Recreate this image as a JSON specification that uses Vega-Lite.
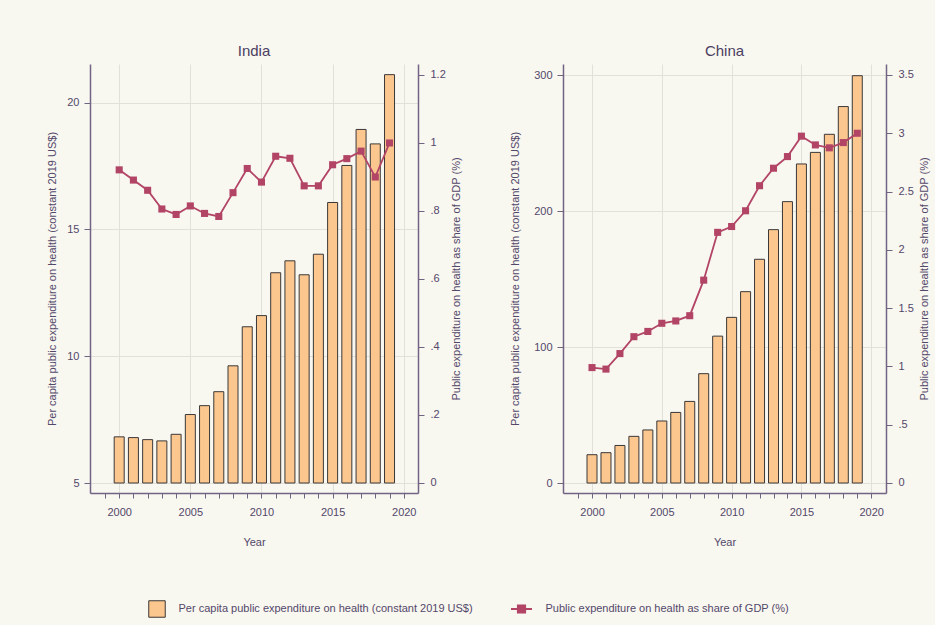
{
  "$schema": "https://vega.github.io/schema/vega-lite/v6.json",
  "background": "#f8f7f0",
  "padding": {"left": 46, "top": 44, "right": 5, "bottom": 5},
  "config": {
    "font": "Liberation Sans",
    "view": {"stroke": null},
    "axis": {
      "labelFont": "Liberation Sans", "titleFont": "Liberation Sans",
      "labelFontSize": 11, "titleFontSize": 11, "titleFontWeight": "normal",
      "labelColor": "#54486a", "titleColor": "#54486a",
      "domainColor": "#716382", "tickColor": "#716382",
      "domainWidth": 1.5, "tickWidth": 1,
      "gridColor": "#e2e1d9", "gridWidth": 1
    },
    "title": {"fontSize": 15, "fontWeight": "normal", "color": "#4b4060", "offset": 5, "font": "Liberation Sans"}
  },
  "datasets": {
    "india": [
      {"year": 2000, "percap": 6.82, "share": 0.920},
      {"year": 2001, "percap": 6.79, "share": 0.890},
      {"year": 2002, "percap": 6.71, "share": 0.860},
      {"year": 2003, "percap": 6.66, "share": 0.805},
      {"year": 2004, "percap": 6.92, "share": 0.789},
      {"year": 2005, "percap": 7.70, "share": 0.814},
      {"year": 2006, "percap": 8.05, "share": 0.792},
      {"year": 2007, "percap": 8.60, "share": 0.783},
      {"year": 2008, "percap": 9.62, "share": 0.853},
      {"year": 2009, "percap": 11.16, "share": 0.924},
      {"year": 2010, "percap": 11.60, "share": 0.884},
      {"year": 2011, "percap": 13.29, "share": 0.960},
      {"year": 2012, "percap": 13.76, "share": 0.954},
      {"year": 2013, "percap": 13.21, "share": 0.873},
      {"year": 2014, "percap": 14.02, "share": 0.873},
      {"year": 2015, "percap": 16.06, "share": 0.935},
      {"year": 2016, "percap": 17.52, "share": 0.953},
      {"year": 2017, "percap": 18.94, "share": 0.975},
      {"year": 2018, "percap": 18.37, "share": 0.899},
      {"year": 2019, "percap": 21.10, "share": 0.999}
    ],
    "china": [
      {"year": 2000, "percap": 20.8, "share": 0.99},
      {"year": 2001, "percap": 22.3, "share": 0.977},
      {"year": 2002, "percap": 27.6, "share": 1.11},
      {"year": 2003, "percap": 34.3, "share": 1.255},
      {"year": 2004, "percap": 39.0, "share": 1.30},
      {"year": 2005, "percap": 45.6, "share": 1.37},
      {"year": 2006, "percap": 51.9, "share": 1.39},
      {"year": 2007, "percap": 60.0, "share": 1.435},
      {"year": 2008, "percap": 80.4, "share": 1.74},
      {"year": 2009, "percap": 108.0, "share": 2.15},
      {"year": 2010, "percap": 121.8, "share": 2.20},
      {"year": 2011, "percap": 140.7, "share": 2.335},
      {"year": 2012, "percap": 164.5, "share": 2.55},
      {"year": 2013, "percap": 186.3, "share": 2.70},
      {"year": 2014, "percap": 206.9, "share": 2.80},
      {"year": 2015, "percap": 234.6, "share": 2.975},
      {"year": 2016, "percap": 243.1, "share": 2.90},
      {"year": 2017, "percap": 256.4, "share": 2.875},
      {"year": 2018, "percap": 276.8, "share": 2.92},
      {"year": 2019, "percap": 299.5, "share": 3.00}
    ]
  },
  "vconcat": [
    {
      "hconcat": [
        {
          "title": {"text": "India"},
          "width": 328, "height": 429,
          "data": {"name": "india"},
          "encoding": {
            "x": {
              "field": "year", "type": "quantitative",
              "scale": {"domain": [1998.3, 2020.65], "nice": false, "zero": false},
              "axis": {
                "title": "Year", "values": [1999,2000,2001,2002,2003,2004,2005,2006,2007,2008,2009,2010,2011,2012,2013,2014,2015,2016,2017,2018,2019,2020],
                "format": "d", "labelExpr": "datum.value % 5 === 0 ? datum.label : ''",
                "labelOverlap": false, "labelFlush": false,
                "tickSize": 5, "labelPadding": 8, "titlePadding": 19,
                "grid": true,
                "gridOpacity": {"condition": {"test": "datum.value % 5 === 0", "value": 1}, "value": 0}
              }
            }
          },
          "layer": [
            {
              "mark": {"type": "bar", "size": 10, "fill": "#fcc78e", "stroke": "#3b3838", "strokeWidth": 1},
              "encoding": {
                "y": {
                  "field": "percap", "type": "quantitative",
                  "scale": {"domain": [4.606, 21.52], "nice": false, "zero": false},
                  "axis": {"values": [5, 10, 15, 20], "title": "Per capita public expenditure on health (constant 2019 US$)", "grid": true, "tickSize": 6, "labelPadding": 5, "titlePadding": 9}
                },
                "y2": {"datum": 5}
              }
            },
            {
              "mark": {"type": "line", "color": "#b24466", "strokeWidth": 1.8, "point": {"shape": "square", "size": 50, "filled": true, "color": "#b24466"}},
              "encoding": {
                "y": {
                  "field": "share", "type": "quantitative",
                  "scale": {"domain": [-0.0294, 1.231], "nice": false, "zero": false},
                  "axis": {"orient": "right", "values": [0, 0.2, 0.4, 0.6, 0.8, 1, 1.2], "labelExpr": "datum.value > 0 && datum.value < 1 ? substring(format(datum.value, '.2~f'), 1) : format(datum.value, '.2~f')", "title": "Public expenditure on health as share of GDP (%)", "titleAngle": 270, "titleBaseline": "top", "grid": false, "tickSize": 6, "labelPadding": 6, "titlePadding": 5}
                }
              }
            }
          ],
          "resolve": {"scale": {"y": "independent"}}
        },
        {
          "title": {"text": "China"},
          "width": 323, "height": 429,
          "data": {"name": "china"},
          "encoding": {
            "x": {
              "field": "year", "type": "quantitative",
              "scale": {"domain": [1998.28, 2020.7], "nice": false, "zero": false},
              "axis": {
                "title": "Year", "values": [1999,2000,2001,2002,2003,2004,2005,2006,2007,2008,2009,2010,2011,2012,2013,2014,2015,2016,2017,2018,2019,2020],
                "format": "d", "labelExpr": "datum.value % 5 === 0 ? datum.label : ''",
                "labelOverlap": false, "labelFlush": false,
                "tickSize": 5, "labelPadding": 8, "titlePadding": 19,
                "grid": true,
                "gridOpacity": {"condition": {"test": "datum.value % 5 === 0", "value": 1}, "value": 0}
              }
            }
          },
          "layer": [
            {
              "mark": {"type": "bar", "size": 10, "fill": "#fcc78e", "stroke": "#3b3838", "strokeWidth": 1},
              "encoding": {
                "y": {
                  "field": "percap", "type": "quantitative",
                  "scale": {"domain": [-7.35, 308.1], "nice": false, "zero": false},
                  "axis": {"values": [0, 100, 200, 300], "title": "Per capita public expenditure on health (constant 2019 US$)", "grid": true, "tickSize": 6, "labelPadding": 5, "titlePadding": 13}
                },
                "y2": {"datum": 0}
              }
            },
            {
              "mark": {"type": "line", "color": "#b24466", "strokeWidth": 1.8, "point": {"shape": "square", "size": 50, "filled": true, "color": "#b24466"}},
              "encoding": {
                "y": {
                  "field": "share", "type": "quantitative",
                  "scale": {"domain": [-0.0858, 3.594], "nice": false, "zero": false},
                  "axis": {"orient": "right", "values": [0, 0.5, 1, 1.5, 2, 2.5, 3, 3.5], "labelExpr": "datum.value > 0 && datum.value < 1 ? substring(format(datum.value, '.2~f'), 1) : format(datum.value, '.2~f')", "title": "Public expenditure on health as share of GDP (%)", "titleAngle": 270, "titleBaseline": "top", "grid": false, "tickSize": 6, "labelPadding": 6, "titlePadding": 5}
                }
              }
            }
          ],
          "resolve": {"scale": {"y": "independent"}}
        }
      ],
      "spacing": 47
    },
    {
      "width": 729, "height": 16,
      "data": {"values": [
        {"series": "Per capita public expenditure on health (constant 2019 US$)", "kind": "bar"},
        {"series": "Public expenditure on health as share of GDP (%)", "kind": "line"}
      ]},
      "encoding": {
        "x": {"field": "series", "type": "nominal", "sort": null, "scale": {"paddingInner": 0, "paddingOuter": 0}, "axis": null}
      },
      "layer": [
        {"transform": [{"filter": "datum.kind === 'bar'"}], "mark": {"type": "square", "size": 272, "filled": true, "fill": "#fcc78e", "stroke": "#3b3838", "strokeWidth": 1, "opacity": 1, "xOffset": -115.25}},
        {"transform": [{"filter": "datum.kind === 'line'"}], "mark": {"type": "point", "shape": "M-1,0H1M-0.35,-0.35H0.35V0.35H-0.35Z", "size": 441, "filled": true, "fill": "#b24466", "stroke": "#b24466", "strokeWidth": 1.8, "opacity": 1, "xOffset": -115.25}},
        {"transform": [{"filter": "datum.kind === 'bar'"}], "mark": {"type": "text", "align": "left", "baseline": "middle", "dx": -93.75, "fontSize": 11, "color": "#54486a"}, "encoding": {"text": {"field": "series"}}},
        {"transform": [{"filter": "datum.kind === 'line'"}], "mark": {"type": "text", "align": "left", "baseline": "middle", "dx": -91.25, "fontSize": 11, "color": "#54486a"}, "encoding": {"text": {"field": "series"}}}
      ]
    }
  ],
  "spacing": 51
}
